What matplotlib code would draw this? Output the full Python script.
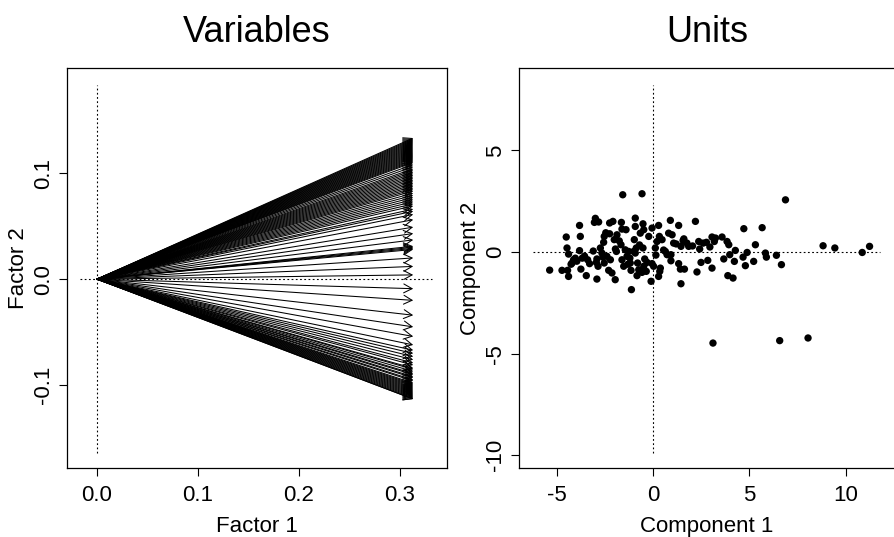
import matplotlib
matplotlib.use("Agg")
import matplotlib.pyplot as plt

plt.rcParams['font.family'] = ['Liberation Sans', 'DejaVu Sans']

# ---- Variables panel: arrow tips (Factor 1, Factor 2) ----
arrow_x = 0.313
arrow_y = [0.133, 0.132, 0.131, 0.130, 0.129, 0.128, 0.127, 0.126, 0.125, 0.124,
           0.123, 0.122, 0.121, 0.120, 0.119, 0.118, 0.117, 0.116, 0.115, 0.114,
           0.113, 0.112, 0.111, 0.110, 0.108, 0.106, 0.104, 0.1025, 0.101, 0.0995,
           0.098, 0.0965, 0.095, 0.0935, 0.092, 0.0905, 0.089, 0.0875, 0.086, 0.0845,
           0.083, 0.081, 0.079, 0.077, 0.075, 0.073, 0.071, 0.069, 0.066, 0.064,
           0.061, 0.056, 0.049, 0.043, 0.037, 0.031, 0.030, 0.029, 0.028, 0.020,
           0.012, 0.004, -0.009, -0.020, -0.034, -0.045, -0.054, -0.062, -0.067,
           -0.070, -0.073, -0.076, -0.079, -0.081, -0.084, -0.085, -0.087, -0.089,
           -0.090, -0.092, -0.093, -0.095, -0.096, -0.098, -0.099, -0.100, -0.101,
           -0.102, -0.103, -0.104, -0.105, -0.106, -0.107, -0.108, -0.109, -0.110,
           -0.111, -0.112, -0.113, -0.113]

# ---- Units panel: scores (Component 1, Component 2) ----
comp1 = [-5.36, -4.72, -4.50, -4.46, -4.38, -4.43, -4.38, -4.20, -4.12, -4.03,
         -3.81, -3.77, -3.81, -3.74, -3.67, -3.46, -3.39, -3.29, -2.99, -3.04,
         -2.82, -2.91, -2.91, -2.94, -2.73, -2.65, -2.53, -2.56, -2.53, -2.39,
         -2.25, -2.25, -2.08, -2.30, -2.13, -1.96, -2.21, -2.01, -1.90, -1.87,
         -1.64, -1.57, -1.61, -1.66, -1.61, -1.52, -1.40, -1.44, -1.35, -1.26,
         -1.18, -1.14, -1.12, -1.00, -0.92, -0.92, -0.97, -0.87, -0.92, -0.80,
         -0.83, -0.74, -0.66, -0.57, -0.52, -0.48, -0.52, -0.57, -0.48, -0.43,
         -0.31, -0.22, -0.10, -0.05, -0.05, 0.03, 0.12, 0.21, 0.29, 0.33,
         0.29, 0.35, 0.38, 0.47, 0.64, 0.73, 0.81, 0.90, 0.93, 0.99,
         0.93, 1.07, 1.33, 1.33, 1.42, 1.45, 1.45, 1.56, 1.63, 1.76,
         1.85, 2.20, 2.28, 2.37, 2.42, 2.49, 2.60, 2.77, 2.84, 3.06,
         3.06, 3.11, 3.18, 3.24, 3.58, 3.67, 3.84, 3.93, 3.88, 3.98,
         4.15, 4.22, 4.27, 4.67, 4.71, 4.79, 4.88, 5.22, 5.31, 5.66,
         5.83, 5.88, 6.40, 6.57, 6.66, 6.87, 8.04, 8.82, 9.43, 10.85,
         11.23, -2.60, -3.10, -1.75, -1.20, -0.70, -2.45, -3.55, -1.30, 0.55,
         1.20, 2.05, -2.85, -1.95, -0.35, 0.15, 1.60, 2.95, -4.25, -3.95]
comp2 = [-0.89, -0.90, 0.74, 0.20, -0.10, -0.90, -1.20, -0.54, -0.38, -0.30,
         1.31, 0.77, 0.07, -0.84, -0.30, -1.16, -0.38, -0.57, 1.66, 1.46,
         1.48, -1.33, -0.34, -0.51, 0.20, -0.05, 0.77, 0.48, -0.54, -0.21,
         0.90, 1.43, 1.51, -0.90, -1.03, -1.36, -0.38, 0.61, 0.03, 0.85,
         1.46, 2.82, 1.13, 0.36, -0.38, -0.70, 1.10, 0.11, -0.21, 0.03,
         -0.54, -0.90, -1.85, 0.03, 1.67, 1.26, 0.61, 0.20, -0.05, -0.54,
         -1.16, -0.87, 0.93, 2.87, 1.39, 1.10, 0.20, -1.00, -0.70, -0.34,
         -0.51, 0.77, -1.44, 1.18, -0.57, -0.70, 0.20, 0.52, 1.31, 0.77,
         -1.20, -0.95, -0.79, 0.61, 0.03, -0.13, 0.93, 1.56, -0.13, 0.85,
         -0.43, 0.44, 1.31, -0.57, -0.84, -1.56, 0.28, 0.57, -0.84, 0.44,
         0.28, 1.51, -0.98, 0.52, 0.15, -0.51, 0.44, 0.48, -0.41, 0.74,
         -0.79, -4.48, 0.52, 0.69, 0.74, -0.34, 0.52, 0.36, -1.16, -0.13,
         -1.28, -0.46, 0.08, -0.25, 1.15, -0.67, -0.02, -0.46, 0.36, 1.20,
         -0.05, -0.25, -0.16, -4.36, -0.62, 2.57, -4.23, 0.31, 0.20, -0.02,
         0.28, -0.25, 0.05, 0.55, -0.30, 0.35, 0.95, -0.20, -0.60, 0.10,
         0.40, 0.30, -0.70, 0.15, -0.95, -0.15, 0.65, 0.25, -0.60, -0.45]

fig = plt.figure(figsize=(8.94, 5.37), dpi=100)
ax1 = fig.add_axes([67/894, 69/537, 380/894, 400/537])
ax2 = fig.add_axes([519/894, 69/537, 376/894, 400/537])

dotted = (0, (1.6, 2.2))

# Left panel
ax1.plot([-0.0168, 0.332], [0, 0], color='black', lw=0.8, linestyle=dotted)
ax1.plot([0, 0], [-0.164, 0.183], color='black', lw=0.8, linestyle=dotted)
for yv in arrow_y:
    ax1.annotate('', xy=(arrow_x, yv), xytext=(0, 0),
                 arrowprops=dict(arrowstyle='->,head_length=0.6,head_width=0.32',
                                 lw=0.75, color='black', shrinkA=0, shrinkB=0))
ax1.set_xlim(-0.0297, 0.3465)
ax1.set_ylim(-0.178, 0.199)
ax1.set_xticks([0.0, 0.1, 0.2, 0.3])
ax1.set_xticklabels(['0.0', '0.1', '0.2', '0.3'])
ax1.set_yticks([-0.1, 0.0, 0.1])
ax1.set_yticklabels(['-0.1', '0.0', '0.1'], rotation=90, va='center')
ax1.set_xlabel('Factor 1', fontsize=16, labelpad=7)
ax1.set_ylabel('Factor 2', fontsize=16, labelpad=3)
ax1.set_title('Variables', fontsize=26, pad=19)

# Right panel
ax2.plot([-6.23, 11.77], [0, 0], color='black', lw=0.8, linestyle=dotted)
ax2.plot([0, 0], [-9.9, 8.23], color='black', lw=0.8, linestyle=dotted)
ax2.scatter(comp1, comp2, s=28, color='black', edgecolors='none', zorder=3)
ax2.set_xlim(-6.95, 12.55)
ax2.set_ylim(-10.63, 9.06)
ax2.set_xticks([-5, 0, 5, 10])
ax2.set_xticklabels(['-5', '0', '5', '10'])
ax2.set_yticks([-10, -5, 0, 5])
ax2.set_yticklabels(['-10', '-5', '0', '5'], rotation=90, va='center')
ax2.set_xlabel('Component 1', fontsize=16, labelpad=7)
ax2.set_ylabel('Component 2', fontsize=16, labelpad=3)
ax2.set_title('Units', fontsize=26, pad=19)

for ax in (ax1, ax2):
    for s in ax.spines.values():
        s.set_linewidth(0.9)
    ax.tick_params(direction='out', length=6, width=0.8, labelsize=16)
    ax.tick_params(axis='x', pad=6.5)
    ax.tick_params(axis='y', pad=3)

fig.savefig('out.png', dpi=100)
